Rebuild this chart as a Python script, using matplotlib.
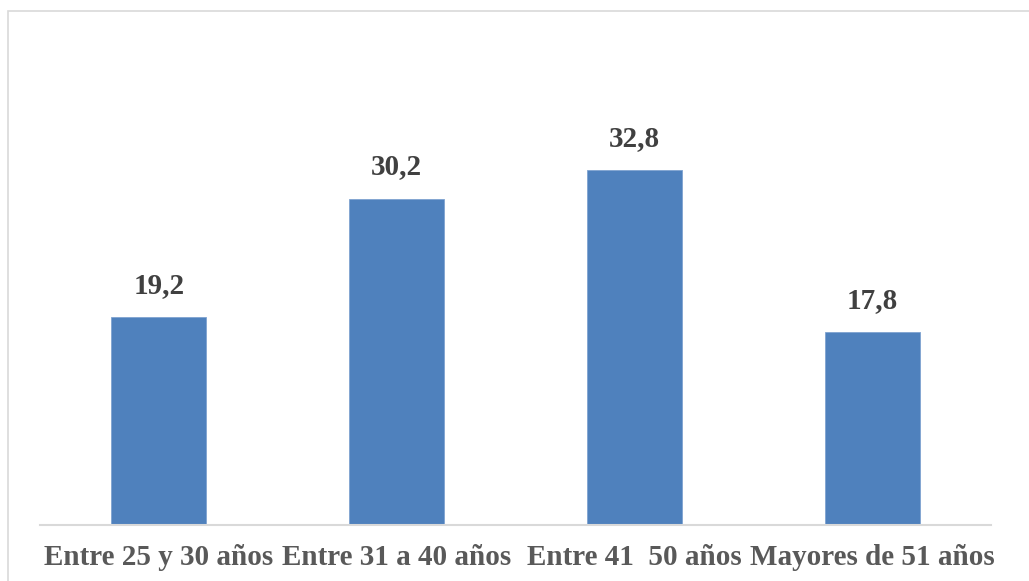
import matplotlib.pyplot as plt
import matplotlib.patches as mpatches
import numpy as np

categorias = ["Entre 25 y 30 años", "Entre 31 a 40 años", "Entre 41  50 años", "Mayores de 51 años"]
valores = [19.2, 30.2, 32.8, 17.8]
etiquetas = ["19,2", "30,2", "32,8", "17,8"]

plt.rcParams['font.family'] = ['Liberation Serif', 'DejaVu Serif']

fig = plt.figure(figsize=(10.29, 5.81), dpi=100)
# marco gris del grafico
fig.patches.append(mpatches.Rectangle((8/1029, -0.05), 1.1, 1 - 11/581 + 0.05,
                                      transform=fig.transFigure, fill=False,
                                      edgecolor='#D9D9D9', linewidth=1.2))

ax = fig.add_axes([40/1029, 1 - 524.7/581, 951/1029, (524.7 - 60)/581])
x = np.arange(len(categorias))
bars = ax.bar(x, valores, width=0.4, color='#4F81BD', edgecolor='#7FA3D0', linewidth=0.6)

ax.set_xlim(-0.5, len(categorias) - 0.5)
ax.set_ylim(0, (524.7 - 60) / 10.8)

for b, t in zip(bars, etiquetas):
    ax.annotate(t, (b.get_x() + b.get_width() / 2, b.get_height()),
                xytext=(0, 13), textcoords='offset points', ha='center', va='bottom',
                fontsize=21, fontweight='bold', color='#404040')

ax.set_xticks(x)
ax.set_xticklabels(categorias, fontsize=21, fontweight='bold', color='#595959')
ax.tick_params(axis='x', length=0, pad=14)
ax.set_yticks([])
for s in ['top', 'right', 'left']:
    ax.spines[s].set_visible(False)
ax.spines['bottom'].set_color('#D9D9D9')
ax.spines['bottom'].set_linewidth(1.5)

fig.savefig('out.png', dpi=100)
